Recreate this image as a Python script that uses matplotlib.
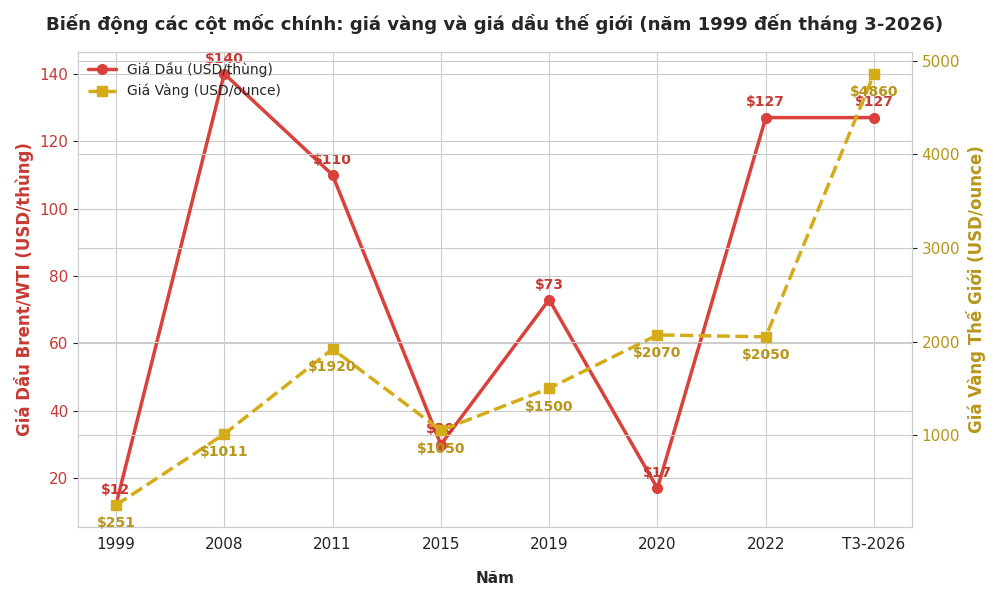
import matplotlib.pyplot as plt
import seaborn as sns

# Du lieu
nam = ['1999', '2008', '2011', '2015', '2019', '2020', '2022', 'T3-2026']
gia_dau = [12, 140, 110, 30, 73, 17, 127, 127]
gia_vang = [251, 1011, 1920, 1050, 1500, 2070, 2050, 4860]

sns.set_style('whitegrid')
plt.rcParams['font.family'] = ['DejaVu Sans']

mau_dau = '#d9413a'
mau_dau_chu = '#c73a33'
mau_vang = '#d4ac1a'
mau_vang_chu = '#b8961a'

fig, ax1 = plt.subplots(figsize=(10, 6), dpi=100)
x = range(len(nam))

l1, = ax1.plot(x, gia_dau, color=mau_dau, marker='o', markersize=7,
               linewidth=2.5, label='Giá Dầu (USD/thùng)')
for i, v in zip(x, gia_dau):
    ax1.annotate(f'${v}', (i, v), textcoords='offset points', xytext=(0, 8),
                 ha='center', color=mau_dau_chu, fontsize=10, fontweight='bold')

ax1.set_xticks(list(x))
ax1.set_xticklabels(nam, fontsize=11, color='#222222')
ax1.set_xlabel('Năm', fontsize=11, fontweight='bold', labelpad=14)
ax1.set_ylabel('Giá Dầu Brent/WTI (USD/thùng)', color=mau_dau_chu,
               fontsize=12, fontweight='bold')
ax1.tick_params(axis='y', labelcolor=mau_dau_chu, labelsize=11)

ax2 = ax1.twinx()
l2, = ax2.plot(x, gia_vang, color=mau_vang, marker='s', markersize=7,
               linewidth=2.5, linestyle='--', label='Giá Vàng (USD/ounce)')
for i, v in zip(x, gia_vang):
    ax2.annotate(f'${v}', (i, v), textcoords='offset points', xytext=(0, -16),
                 ha='center', color=mau_vang_chu, fontsize=10, fontweight='bold')
ax2.set_ylabel('Giá Vàng Thế Giới (USD/ounce)', color=mau_vang_chu,
               fontsize=12, fontweight='bold')
ax2.tick_params(axis='y', labelcolor=mau_vang_chu, labelsize=11)

for ax in (ax1, ax2):
    for s in ax.spines.values():
        s.set_color('#cccccc')

ax1.legend([l1, l2], [l1.get_label(), l2.get_label()], loc='upper left',
           framealpha=0, fontsize=10, borderaxespad=0.3)

plt.title('Biến động các cột mốc chính: giá vàng và giá dầu thế giới (năm 1999 đến tháng 3-2026)',
          fontsize=13.1, fontweight='bold', pad=16)
plt.subplots_adjust(left=0.078, right=0.912, top=0.913, bottom=0.122)
plt.savefig('out.png')
